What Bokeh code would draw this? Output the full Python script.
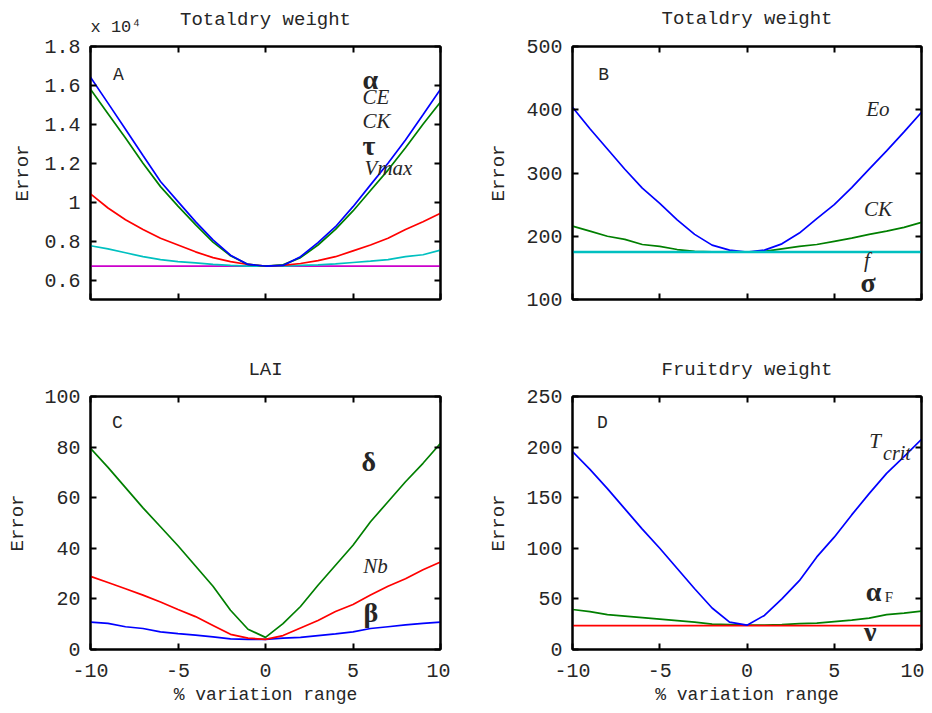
from bokeh.plotting import figure
from bokeh.layouts import column, row
from bokeh.models import Label, LinearAxis, FixedTicker, Range1d, Title
from bokeh.embed import file_html
from bokeh.resources import INLINE

# ---------------- data ----------------
x_pct = [-10, -9, -8, -7, -6, -5, -4, -3, -2, -1, 0, 1, 2, 3, 4, 5, 6, 7, 8, 9, 10]
x_ticks = [-10, -5, 0, 5, 10]
x_tick_labels = ["-10", "-5", "0", "5", "10"]

# Panel A: Total dry weight (x 10^4)
a_blue = [1.642, 1.509, 1.375, 1.24, 1.106, 1.003, 0.90, 0.806, 0.728, 0.68, 0.672,
          0.675, 0.72, 0.792, 0.874, 0.977, 1.089, 1.20, 1.32, 1.449, 1.58]
a_green = [1.58, 1.455, 1.33, 1.20, 1.08, 0.98, 0.885, 0.795, 0.725, 0.68, 0.672,
           0.678, 0.715, 0.78, 0.86, 0.955, 1.06, 1.165, 1.28, 1.40, 1.515]
a_red = [1.043, 0.97, 0.91, 0.86, 0.815, 0.78, 0.745, 0.715, 0.695, 0.68, 0.672,
         0.675, 0.685, 0.70, 0.72, 0.75, 0.78, 0.815, 0.86, 0.90, 0.943]
a_cyan = [0.776, 0.76, 0.74, 0.72, 0.705, 0.695, 0.688, 0.68, 0.675, 0.672, 0.672,
          0.672, 0.675, 0.678, 0.683, 0.69, 0.697, 0.705, 0.72, 0.73, 0.754]
a_magenta = [0.672] * 21
a_yticks = [0.6, 0.8, 1.0, 1.2, 1.4, 1.6, 1.8]
a_ytick_labels = ["0.6", "0.8", "1", "1.2", "1.4", "1.6", "1.8"]

# Panel B: Total dry weight
b_blue = [404, 370, 338, 306, 276, 252, 226, 203, 186, 178, 175,
          178, 188, 205, 228, 250, 277, 306, 335, 365, 396]
b_green = [216, 208, 200, 195, 187, 184, 179, 176, 175.5, 175, 175,
           176, 180, 184, 187, 192, 197, 203, 208, 214, 222]
b_cyan = [175] * 21
b_yticks = [100, 200, 300, 400, 500]

# Panel C: LAI
c_green = [79.5, 72, 64, 56, 48.5, 41, 33, 25, 15.5, 8, 4.8,
           10.2, 17, 25.4, 33.3, 41.2, 50.5, 58.4, 66.3, 73.6, 81.5]
c_red = [28.9, 26.5, 24, 21.5, 18.8, 15.8, 13, 9.5, 6, 4.5, 4,
         5.5, 8.5, 11.5, 15, 17.8, 21.5, 25, 28, 31.5, 34.6]
c_blue = [10.8, 10.3, 9, 8.3, 7, 6.3, 5.7, 5, 4.2, 4, 4,
          4.5, 4.8, 5.5, 6.2, 7, 8.3, 9, 9.7, 10.3, 10.8]
c_yticks = [0, 20, 40, 60, 80, 100]

# Panel D: Fruit dry weight
d_blue = [195.5, 178, 159, 139, 119, 100, 80, 60, 41, 27, 24,
          33.7, 50, 68, 91.5, 111, 133, 154, 174, 190.5, 207.7]
d_green = [39.5, 37.5, 34.5, 33, 31.5, 30, 28.5, 27, 25, 24.5, 24,
           24, 24.5, 25.5, 26, 27.5, 29, 31, 34.5, 36, 38]
d_red = [23.5] * 21
d_yticks = [0, 50, 100, 150, 200, 250]

MONO = "Liberation Mono"
SERIF = "Liberation Serif"
TXT = "#262626"


def label_style(ax, size):
    ax.axis_label_text_font = MONO
    ax.axis_label_text_font_size = size
    ax.axis_label_text_font_style = "normal"
    ax.axis_label_text_color = TXT


def panel(w, h, left, right, top, bottom, y0, y1, yticks, ylabels, show_x,
          ylab_standoff, title, title_standoff, scale_note=None):
    p = figure(width=w, height=h, x_range=Range1d(-10, 10), y_range=Range1d(y0, y1),
               output_backend="svg", toolbar_location=None, tools="",
               title_location=None,
               min_border_left=left, min_border_right=right,
               min_border_top=top, min_border_bottom=bottom)
    p.xgrid.visible = False
    p.ygrid.visible = False
    p.outline_line_color = "black"
    p.outline_line_width = 2
    p.outline_line_alpha = 1
    p.background_fill_color = "white"
    p.border_fill_color = "white"
    ylab = {t: l for t, l in zip(yticks, ylabels)}
    xlab = {t: l for t, l in zip(x_ticks, x_tick_labels)}
    p.xaxis.ticker = FixedTicker(ticks=x_ticks)
    p.yaxis.ticker = FixedTicker(ticks=yticks)
    p.xaxis.major_label_overrides = xlab
    p.yaxis.major_label_overrides = ylab
    for ax in [p.xaxis[0], p.yaxis[0]]:
        ax.axis_line_width = 2
        ax.axis_line_color = "black"
        ax.major_tick_in = 6
        ax.major_tick_out = 0
        ax.major_tick_line_width = 2
        ax.minor_tick_line_color = None
        ax.major_label_text_font = MONO
        ax.major_label_text_font_size = "20px"
        ax.major_label_text_color = TXT
        ax.major_label_standoff = 10
        label_style(ax, "19px")
    p.yaxis.axis_label = "Error"
    p.yaxis.axis_label_standoff = ylab_standoff
    if show_x:
        p.xaxis.axis_label = "% variation range"
        p.xaxis.axis_label_text_font_size = "18px"
        p.xaxis.axis_label_standoff = 5
        p.xaxis.major_label_standoff = 14
    else:
        p.xaxis.major_label_text_font_size = "0px"
        p.xaxis.major_label_standoff = 0

    def mirror(tk):
        return LinearAxis(ticker=FixedTicker(ticks=tk), major_label_text_font_size="0px",
                          major_label_standoff=0, major_tick_in=6, major_tick_out=0,
                          major_tick_line_width=2, minor_tick_line_color=None,
                          axis_line_width=2, axis_line_color="black")

    p.add_layout(mirror(yticks), "right")
    top_ax = mirror(x_ticks)
    if scale_note is None:
        top_ax.axis_label = title
        top_ax.axis_label_standoff = title_standoff
        label_style(top_ax, "19px")
        p.add_layout(top_ax, "above")
    else:
        note, note_standoff = scale_note
        p.add_layout(top_ax, "above")
        p.add_layout(Title(text=note, align="left", text_font=MONO, text_font_size="17px",
                           text_font_style="normal", text_color=TXT,
                           standoff=note_standoff), "above")
        t_ax = LinearAxis(ticker=FixedTicker(ticks=[]), major_label_text_font_size="0px",
                          major_label_standoff=0, major_tick_line_color=None,
                          minor_tick_line_color=None, axis_line_color=None,
                          axis_label=title, axis_label_standoff=title_standoff)
        label_style(t_ax, "19px")
        p.add_layout(t_ax, "above")
    return p


def txt(p, x, y, s, size, font=MONO, style="normal", align="left"):
    p.add_layout(Label(x=x, y=y, text=s, text_font=font, text_font_size=size,
                       text_font_style=style, text_align=align, text_baseline="middle",
                       text_color=TXT))


LW = 1.7

# ---- A ----
pa = panel(450, 343, 90, 10, 46, 44, 0.5, 1.8, a_yticks, a_ytick_labels, False, 7,
           "Totaldry weight", -25, scale_note=("x 10⁴", 20))
pa.line(x_pct, a_magenta, color="#cc00cc", line_width=LW)
pa.line(x_pct, a_cyan, color="#00c0c0", line_width=LW)
pa.line(x_pct, a_red, color="#ff0000", line_width=LW)
pa.line(x_pct, a_green, color="#007f00", line_width=LW)
pa.line(x_pct, a_blue, color="#0000ff", line_width=LW)
txt(pa, -8.4, 1.656, "A", "18px", align="center")
txt(pa, 5.54, 1.63, "α", "28px", font=SERIF, style="bold")
txt(pa, 5.54, 1.538, "CE", "21px", font=SERIF, style="italic")
txt(pa, 5.54, 1.415, "CK", "21px", font=SERIF, style="italic")
txt(pa, 5.54, 1.29, "τ", "28px", font=SERIF, style="bold")
txt(pa, 5.66, 1.178, "Vmax", "21px", font=SERIF, style="italic")

# ---- B ----
pb = panel(474, 343, 122, 3, 46, 44, 100, 500, b_yticks, [str(v) for v in b_yticks], False, 13,
           "Totaldry weight", 17)
pb.line(x_pct, b_green, color="#007f00", line_width=LW)
pb.line(x_pct, b_blue, color="#0000ff", line_width=LW)
pb.line(x_pct, b_cyan, color="#00c0c0", line_width=2.5)
txt(pb, -8.22, 455.7, "B", "18px", align="center")
txt(pb, 6.83, 400.4, "Eo", "21px", font=SERIF, style="italic")
txt(pb, 6.7, 242.3, "CK", "21px", font=SERIF, style="italic")
txt(pb, 6.7, 163, "f", "21px", font=SERIF, style="italic")
txt(pb, 6.5, 126.9, "σ", "28px", font=SERIF, style="bold")

# ---- C ----
pc = panel(450, 369, 90, 10, 53, 63, 0, 100, c_yticks, [str(v) for v in c_yticks], True, 12,
           "LAI", 16)
pc.line(x_pct, c_blue, color="#0000ff", line_width=LW)
pc.line(x_pct, c_red, color="#ff0000", line_width=LW)
pc.line(x_pct, c_green, color="#007f00", line_width=LW)
txt(pc, -8.46, 89.7, "C", "18px", align="center")
txt(pc, 5.49, 74.4, "δ", "28px", font=SERIF, style="bold")
txt(pc, 5.58, 32.9, "Nb", "21px", font=SERIF, style="italic")
txt(pc, 5.6, 14.6, "β", "28px", font=SERIF, style="bold")

# ---- D ----
pd_ = panel(474, 369, 122, 3, 53, 63, 0, 250, d_yticks, [str(v) for v in d_yticks], True, 13,
            "Fruitdry weight", 16)
pd_.line(x_pct, d_green, color="#007f00", line_width=LW)
pd_.line(x_pct, d_red, color="#ff0000", line_width=LW)
pd_.line(x_pct, d_blue, color="#0000ff", line_width=LW)
txt(pd_, -8.28, 224.3, "D", "18px", align="center")
txt(pd_, 7.0, 205.8, "T", "21px", font=SERIF, style="italic")
txt(pd_, 7.8, 194.3, "crit", "20px", font=SERIF, style="italic")
txt(pd_, 6.8, 57.6, "α", "28px", font=SERIF, style="bold")
txt(pd_, 7.9, 51.4, "F", "15px", font=SERIF)
txt(pd_, 6.7, 18.1, "ν", "28px", font=SERIF, style="bold")

layout = column(row(pa, pb), row(pc, pd_))
open("out.html", "w").write(file_html(layout, INLINE))
